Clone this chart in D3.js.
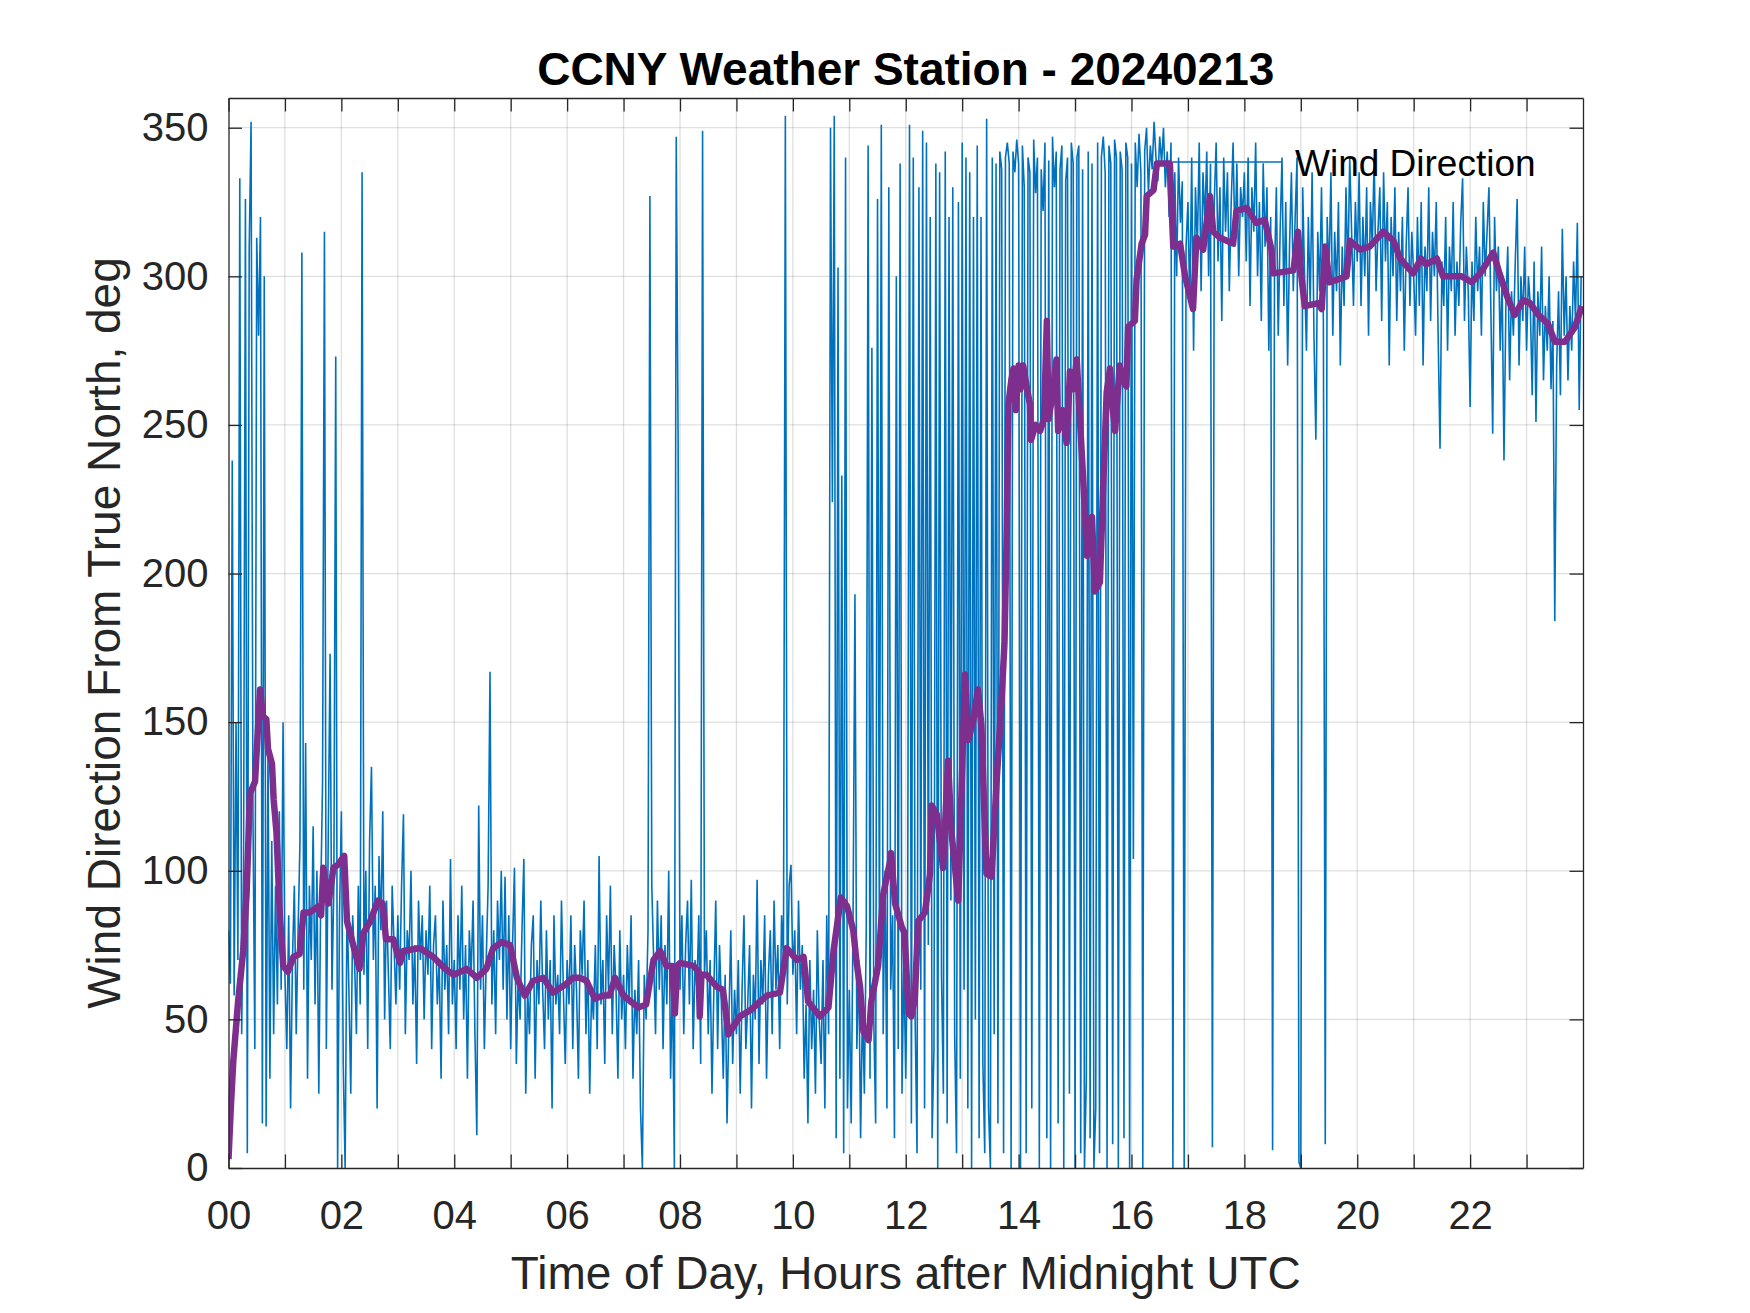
<!DOCTYPE html>
<html>
<head>
<meta charset="utf-8">
<script src="https://cdn.jsdelivr.net/npm/d3@7"></script>
<style>
  body { margin: 0; background: #fff; }
  svg { display: block; font-family: "Liberation Sans", Arial, Helvetica, sans-serif; }
</style>
</head>
<body>
<div id="chart"></div>
<script>
// wind direction samples, one every 2 minutes (deg from true north)
var sampleMinutes = 2;

var dirHours00to05 = [
  80,62,238,58,150,70,333,45,100,326,5,309,352,120,40,313,280,320,15,300,14,140,30,110,45,95,55,120,60,150,
  65,40,85,20,70,95,45,80,110,308,60,143,30,95,70,115,55,100,25,90,130,315,40,110,173,60,95,273,0,85,
  120,35,0,90,60,25,85,70,45,95,55,335,65,100,40,110,135,70,95,20,105,80,120,50,90,65,40,95,75,55,
  85,60,95,119,45,80,70,100,55,75,35,90,70,85,50,80,65,95,40,75,85,55,70,30,90,60,75,45,104,55,
  70,40,85,60,95,50,75,30,80,65,90,45,11,122,60,85,40,70,95,167,55,80,45,90,70,100,60,98,50,85,
  40,75,101,35,65,50,80,104,25,60,45,75,85,30,70,55,90,60,40,80,50,70,20,85,55,65,45,90,60,35
];
var dirHours06to11 = [
  70,55,85,40,75,60,30,80,65,90,45,70,25,60,50,75,40,105,55,70,35,85,60,95,45,75,60,30,80,50,
  65,40,75,55,85,30,60,45,70,20,0,65,50,80,327,95,70,45,90,60,85,40,75,55,100,30,65,0,347,244,
  60,85,45,75,90,55,97,40,70,60,85,35,349,65,80,45,70,25,60,90,40,75,55,30,65,15,50,80,35,60,
  45,70,25,60,85,40,55,75,20,65,50,97,35,70,55,85,30,65,80,45,90,60,75,40,85,70,354,55,95,102,
  65,80,45,90,60,75,30,55,15,70,40,60,25,80,50,35,70,20,85,45,350,224,354,10,303,30,233,5,340,20,
  60,15,85,193,40,70,10,55,25,80,344,30,276,50,15,326,70,351,45,100,20,330,60,85,10,300,40,338,25,70
];
var dirHours12to17 = [
  30,80,351,15,340,50,5,330,60,349,20,345,75,320,10,40,338,0,335,65,25,342,15,320,90,330,45,5,325,30,
  345,60,340,20,335,0,320,50,344,10,320,35,5,353,20,0,340,45,338,15,342,336,5,340,345,338,0,342,335,346,
  338,0,344,330,5,340,335,20,346,328,340,0,336,322,345,10,339,0,347,330,342,15,336,344,0,332,340,25,345,338,
  0,340,344,5,336,0,30,342,10,338,0,20,345,5,340,347,335,0,344,338,8,346,340,0,342,336,10,345,340,0,
  338,104,345,330,348,335,0,342,350,328,344,336,352,340,332,347,338,350,330,342,320,345,0,335,300,340,318,332,0,310,
  325,290,340,275,330,310,345,295,335,318,342,300,338,7,325,345,305,330,285,340,315,335,295,325,345,310,338,300,330,320
];
var dirHours18to23 = [
  335,305,340,290,330,315,345,300,325,285,338,310,330,275,320,6,300,330,280,315,340,290,325,270,310,335,295,320,340,2,
  0,330,300,275,320,290,335,280,245,315,295,330,285,8,320,300,335,280,315,295,325,270,310,290,330,300,340,315,290,325,
  305,335,290,320,300,330,280,325,310,340,295,315,330,285,335,305,325,270,320,300,330,285,315,295,320,275,310,330,290,315,
  300,280,320,290,325,270,310,295,330,285,315,300,325,280,242,305,290,320,275,310,295,325,280,305,290,318,333,285,310,295,
  256,305,285,320,295,310,280,325,300,315,330,290,247,320,295,310,275,300,238,290,310,265,295,280,305,326,270,300,285,310,
  275,300,290,260,305,251,295,280,310,265,290,275,300,262,285,184,270,295,260,316,280,300,265,290,275,305,285,318,255,300
];

// running mean (purple), [hour, deg]
var avgPoints = [
  [0,3],[0.04,20],[0.085,36],[0.17,56],[0.26,73],[0.32,92],[0.38,126],[0.47,130],[0.56,161],[0.61,152],
  [0.67,151],[0.70,141],[0.77,136],[0.80,124],[0.85,113],[0.91,85],[0.97,68],[1.05,66],[1.15,71],[1.26,72],
  [1.33,86],[1.44,86],[1.59,88],[1.64,85],[1.68,101],[1.77,89],[1.86,101],[1.94,102],[2.05,105],[2.10,83],
  [2.21,75],[2.32,67],[2.39,79],[2.51,83],[2.65,90],[2.73,89],[2.79,77],[2.92,77],[3.04,69],[3.10,73],
  [3.39,74],[3.63,71],[3.84,67],[3.99,65],[4.22,67],[4.40,64],[4.57,67],[4.69,74],[4.84,76],[4.99,75],
  [5.11,64],[5.25,58],[5.40,63],[5.58,64],[5.75,59],[5.99,62],[6.10,64],[6.23,64],[6.34,63],[6.49,57],
  [6.64,58],[6.75,58],[6.85,64],[7.00,58],[7.26,54],[7.40,55],[7.53,70],[7.65,73],[7.76,68],[7.86,68],
  [7.91,52],[7.95,68],[8.00,69],[8.24,68],[8.33,66],[8.35,51],[8.38,65],[8.47,65],[8.65,61],[8.76,60],
  [8.86,45],[9.06,51],[9.24,53],[9.54,58],[9.77,59],[9.89,74],[10.07,70],[10.19,71],[10.27,56],[10.48,51],
  [10.63,54],[10.72,73],[10.85,91],[10.96,88],[11.07,80],[11.13,69],[11.19,61],[11.25,46],[11.34,43],[11.39,56],
  [11.51,68],[11.60,92],[11.72,103],[11.74,106],[11.81,89],[11.93,81],[11.98,79],[12.05,52],[12.10,51],[12.16,57],
  [12.22,83],[12.34,86],[12.43,99],[12.46,122],[12.55,119],[12.66,101],[12.75,137],[12.81,113],[12.93,90],[13.05,166],
  [13.11,144],[13.20,151],[13.28,161],[13.34,149],[13.43,99],[13.52,98],[13.61,130],[13.70,158],[13.75,177],[13.79,215],
  [13.82,257],[13.87,265],[13.91,269],[13.95,255],[14.00,270],[14.03,262],[14.08,270],[14.15,262],[14.20,257],[14.22,245],
  [14.30,250],[14.38,248],[14.45,252],[14.50,285],[14.53,252],[14.60,260],[14.67,272],[14.70,248],[14.78,255],[14.85,244],
  [14.91,268],[14.97,262],[15.03,272],[15.12,240],[15.18,219],[15.21,206],[15.30,219],[15.35,194],[15.44,197],[15.50,230],
  [15.56,261],[15.62,269],[15.67,255],[15.71,248],[15.79,270],[15.85,265],[15.91,263],[15.94,283],[16.06,285],[16.09,299],
  [16.18,311],[16.24,314],[16.27,327],[16.39,329],[16.45,338],[16.68,338],[16.74,310],[16.86,311],[16.95,300],[17.09,289],
  [17.15,313],[17.27,309],[17.39,327],[17.45,315],[17.57,313],[17.80,311],[17.86,322],[18.04,323],[18.21,318],[18.36,319],
  [18.48,309],[18.51,301],[18.87,302],[18.95,315],[19.01,300],[19.07,290],[19.31,291],[19.37,289],[19.43,310],[19.51,298],
  [19.81,300],[19.87,312],[20.05,309],[20.22,310],[20.46,315],[20.52,314],[20.64,312],[20.76,306],[20.99,301],[21.13,306],
  [21.22,304],[21.41,306],[21.52,300],[21.85,300],[22.03,298],[22.18,301],[22.41,308],[22.52,301],[22.66,293],[22.79,287],
  [22.94,292],[23.06,291],[23.21,287],[23.38,284],[23.50,278],[23.68,278],[23.86,283],[23.98,290]
];

var hourTicks = [0,1,2,3,4,5,6,7,8,9,10,11,12,13,14,15,16,17,18,19,20,21,22,23];
var hourLabels = ["00","","02","","04","","06","","08","","10","","12","","14","","16","","18","","20","","22",""];
var degTicks = [0,50,100,150,200,250,300,350];

var titleText = "CCNY Weather Station - 20240213";
var xLabelText = "Time of Day, Hours after Midnight UTC";
var yLabelText = "Wind Direction From True North, deg";
var legendText = "Wind Direction";

var width = 1750, height = 1313;
var margin = {top: 98, right: 167, bottom: 145, left: 228.5};
var axisColor = "#262626";
var tickLen = 13.5;

var svg = d3.select("#chart").append("svg")
    .attr("width", width)
    .attr("height", height);

var x = d3.scaleLinear().domain([0, 24]).range([margin.left, width - margin.right]);
var y = d3.scaleLinear().domain([0, 360]).range([height - margin.bottom, margin.top]);

// grid
var grid = svg.append("g").attr("stroke", axisColor).attr("stroke-opacity", 0.15).attr("stroke-width", 1.3);
grid.selectAll("line.v").data(hourTicks.filter(function(h){ return h > 0; }))
    .enter().append("line")
    .attr("x1", function(d){ return x(d); }).attr("x2", function(d){ return x(d); })
    .attr("y1", y(0)).attr("y2", y(360));
grid.selectAll("line.h").data(degTicks.filter(function(v){ return v > 0; }))
    .enter().append("line")
    .attr("x1", x(0)).attr("x2", x(24))
    .attr("y1", function(d){ return y(d); }).attr("y2", function(d){ return y(d); });

svg.append("clipPath").attr("id", "plotClip")
  .append("rect")
    .attr("x", x(0)).attr("y", y(360))
    .attr("width", x(24) - x(0)).attr("height", y(0) - y(360));

var windDir = dirHours00to05.concat(dirHours06to11, dirHours12to17, dirHours18to23);

var rawLine = d3.line()
    .x(function(d, i){ return x(i * sampleMinutes / 60); })
    .y(function(d){ return y(d); });

svg.append("path")
    .datum(windDir)
    .attr("clip-path", "url(#plotClip)")
    .attr("fill", "none")
    .attr("stroke", "#0072BD")
    .attr("stroke-width", 1.6)
    .attr("d", rawLine);

var avgLine = d3.line()
    .x(function(d){ return x(d[0]); })
    .y(function(d){ return y(d[1]); });

svg.append("path")
    .datum(avgPoints)
    .attr("clip-path", "url(#plotClip)")
    .attr("fill", "none")
    .attr("stroke", "#7E2F8E")
    .attr("stroke-width", 6.5)
    .attr("stroke-linejoin", "round")
    .attr("d", avgLine);

// axes, ticks pointing inside
function styleAxis(g) {
    g.attr("font-family", null).attr("font-size", null);
    g.select(".domain").attr("stroke", axisColor).attr("stroke-width", 1.3);
    g.selectAll(".tick line").attr("stroke", axisColor).attr("stroke-width", 1.3);
    g.selectAll(".tick text").attr("fill", axisColor).style("font-size", "40px");
}

svg.append("g")
    .attr("transform", "translate(0," + y(0) + ")")
    .call(d3.axisBottom(x).tickValues(hourTicks).tickSizeInner(-tickLen).tickSizeOuter(0)
        .tickPadding(32.6).tickFormat(function(d, i){ return hourLabels[i]; }))
    .call(styleAxis);

svg.append("g")
    .attr("transform", "translate(0," + y(360) + ")")
    .call(d3.axisTop(x).tickValues(hourTicks).tickSizeInner(-tickLen).tickSizeOuter(0).tickFormat(""))
    .call(styleAxis);

svg.append("g")
    .attr("transform", "translate(" + x(0) + ",0)")
    .call(d3.axisLeft(y).tickValues(degTicks).tickSizeInner(-tickLen).tickSizeOuter(0)
        .tickPadding(20).tickFormat(d3.format("d")))
    .call(styleAxis);

svg.append("g")
    .attr("transform", "translate(" + x(24) + ",0)")
    .call(d3.axisRight(y).tickValues(degTicks).tickSizeInner(-tickLen).tickSizeOuter(0).tickFormat(""))
    .call(styleAxis);

// title and labels
svg.append("text")
    .attr("x", (x(0) + x(24)) / 2).attr("y", 85)
    .attr("text-anchor", "middle")
    .style("font-size", "46px").style("font-weight", "bold")
    .attr("fill", "#000")
    .text(titleText);

svg.append("text")
    .attr("x", (x(0) + x(24)) / 2).attr("y", 1289)
    .attr("text-anchor", "middle")
    .style("font-size", "46px")
    .attr("fill", axisColor)
    .text(xLabelText);

svg.append("text")
    .attr("transform", "translate(120," + (y(0) + y(360)) / 2 + ") rotate(-90)")
    .attr("text-anchor", "middle")
    .style("font-size", "46px")
    .attr("fill", axisColor)
    .text(yLabelText);

// legend (no box)
var legend = svg.append("g");
legend.append("line")
    .attr("x1", 1173).attr("x2", 1282)
    .attr("y1", 162).attr("y2", 162)
    .attr("stroke", "#0072BD").attr("stroke-width", 1.5);
legend.append("text")
    .attr("x", 1295).attr("y", 176)
    .style("font-size", "37px")
    .attr("fill", "#000")
    .text(legendText);
</script>
</body>
</html>
